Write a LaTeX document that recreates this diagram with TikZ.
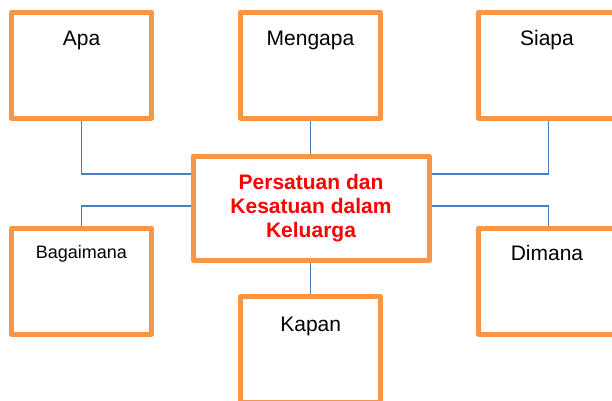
\documentclass[tikz,border=0pt]{standalone}
\usepackage{fontspec}
\setmainfont{Liberation Sans}
\usetikzlibrary{calc,backgrounds}
\definecolor{boxorange}{HTML}{F79646}
\definecolor{connblue}{HTML}{4A7EBB}
\definecolor{titlered}{HTML}{FF0000}
\tikzset{
  qbox/.style={draw=boxorange, line width=5pt, fill=white, line join=round,
    rectangle, inner sep=0pt, minimum width=140pt, minimum height=106pt},
  mainbox/.style={draw=boxorange, line width=5pt, fill=white, line join=round,
    rectangle, inner sep=0pt, minimum width=236pt, minimum height=104pt,
    align=center, text=titlered, font=\bfseries\fontsize{21}{24}\selectfont},
  qlabel/.style={anchor=base, inner sep=0pt, font=\fontsize{21}{24}\selectfont},
  qlabelsmall/.style={anchor=base, inner sep=0pt, font=\fontsize{18}{21}\selectfont},
  conn/.style={draw=connblue, line width=1.5pt}
}
\begin{document}
\begin{tikzpicture}[x=1pt,y=-1pt]
\useasboundingbox (0,0) rectangle (612,400);
\clip (0,0) rectangle (612,400);
% boxes
\node[qbox] (apa) at (81.5,65) {};
\node[qbox] (mengapa) at (310.5,65) {};
\node[qbox] (siapa) at (548.3,65) {};
\node[qbox] (bagaimana) at (81.5,281) {};
\node[qbox] (dimana) at (548.3,281) {};
\node[qbox] (kapan) at (310.5,349.8) {};
\node[mainbox] (center) at (311,208) {Persatuan dan\\Kesatuan dalam\\Keluarga};
% labels
\node[qlabel] (lapa) at (81.5,45) {Apa};
\node[qlabel] (lmengapa) at (310.5,45) {Mengapa};
\node[qlabel] (lsiapa) at (547,45) {Siapa};
\node[qlabelsmall] (lbagaimana) at (81.3,258.3) {Bagaimana};
\node[qlabel] (ldimana) at (547,260) {Dimana};
\node[qlabel] (lkapan) at (310.7,331) {Kapan};
% connectors
\begin{scope}[on background layer]
\draw[conn] (apa.south) |- ($(center.west)+(0,-34)$);
\draw[conn] (bagaimana.north) |- ($(center.west)+(0,-2)$);
\draw[conn] (siapa.south) |- ($(center.east)+(0,-34)$);
\draw[conn] (dimana.north) |- ($(center.east)+(0,-2)$);
\draw[conn] (mengapa.south) -- (mengapa.south |- center.north);
\draw[conn] (kapan.north) -- (kapan.north |- center.south);
\end{scope}
\end{tikzpicture}
\end{document}
